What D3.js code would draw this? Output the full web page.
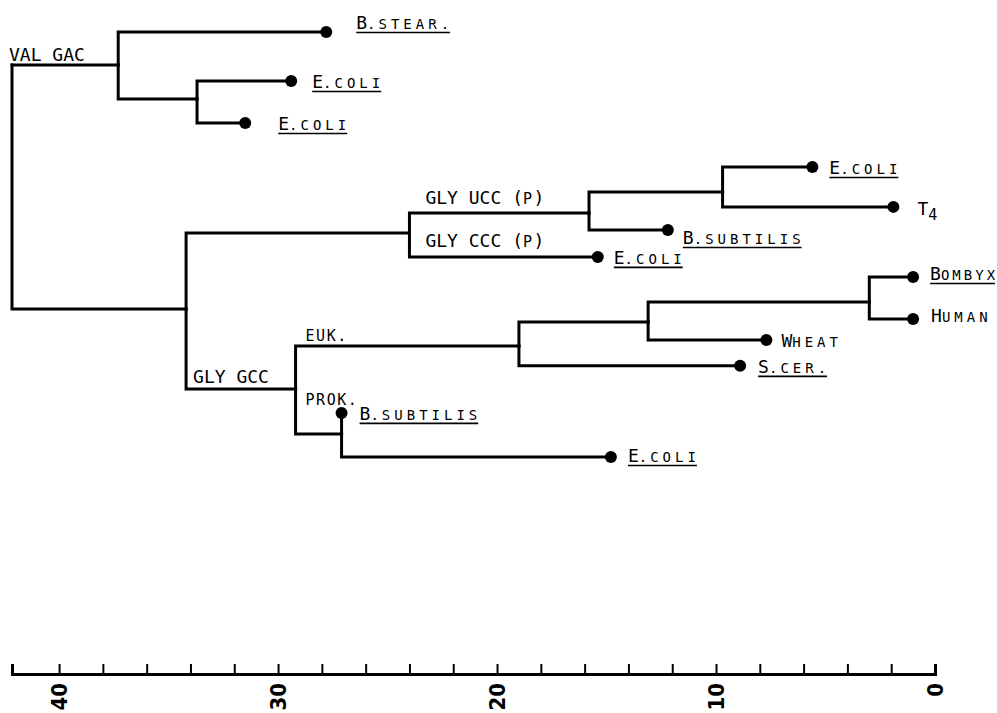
<!DOCTYPE html>
<html>
<head>
<meta charset="utf-8">
<script src="https://cdn.jsdelivr.net/npm/d3@7"></script>
<style>
  body { margin: 0; background: #fff; }
  svg { display: block; }
</style>
</head>
<body>
<div id="chart"></div>
<script>
// tree: node ids, their parents, position on the scale (age) and vertical slot (row)
const nodeIds   = ["root", "n1", "stear", "n2", "coli1", "coli2",
                   "n3", "n4", "n5", "n6", "coli3", "t4", "subt1", "coli4",
                   "n7", "n8", "n9", "n10", "bombyx", "human", "wheat", "scer",
                   "n11", "subt2", "coli5"];
const parentIds = ["", "root", "n1", "n1", "n2", "n2",
                   "root", "n3", "n4", "n5", "n6", "n6", "n5", "n4",
                   "n3", "n7", "n8", "n9", "n10", "n10", "n9", "n8",
                   "n7", "n11", "n11"];
const ages      = [42.15, 37.3, 27.8, 33.7, 29.4, 31.5,
                   34.2, 24.0, 15.8, 9.7, 5.6, 1.9, 12.2, 15.4,
                   29.2, 19.0, 13.1, 3.0, 1.0, 1.0, 7.7, 8.9,
                   27.1, 27.1, 14.8];
const rows      = [1.56, 1.56, 0, 3.16, 2.31, 4.29,
                   13.07, 9.48, 8.54, 7.55, 6.37, 8.25, 9.34, 10.61,
                   16.84, 14.81, 13.68, 12.74, 11.56, 13.54, 14.53, 15.75,
                   18.96, 17.97, 20.05];

// leaf names (underlined = species names)
const leafNames = {
  stear: "B. stear.", coli1: "E. coli", coli2: "E. coli", coli3: "E. coli",
  t4: "T4", subt1: "B. subtilis", coli4: "E. coli", bombyx: "Bombyx",
  human: "Human", wheat: "Wheat", scer: "S. cer.", subt2: "B. subtilis",
  coli5: "E. coli"
};
const underlined = ["stear", "coli1", "coli2", "coli3", "subt1", "coli4",
                    "bombyx", "scer", "subt2", "coli5"];

// labels written on branches (lowercase = small capitals)
const branchLabels = {
  n1: "VAL GAC", n5: "GLY UCC (p)", coli4: "GLY CCC (p)",
  n7: "GLY GCC", n8: "euk.", n11: "prok."
};

const axisTicks = d3.range(0, 41, 2);

const width = 997, height = 713;
const axisY = 674;

const svg = d3.select("#chart").append("svg")
    .attr("width", width)
    .attr("height", height);

const x = d3.scaleLinear().domain([42.15, 0]).range([12, 935]);
const y = d3.scaleLinear().domain([0, 20.05]).range([32, 457]);

const table = nodeIds.map((id, i) => ({
  id: id, parent: parentIds[i] || null, age: ages[i], row: rows[i]
}));
const root = d3.stratify().id(d => d.id).parentId(d => d.parent)(table);

const mono = "'DejaVu Sans Mono', 'Liberation Mono', monospace";

// branches
svg.append("g")
    .attr("fill", "none")
    .attr("stroke", "#000")
    .attr("stroke-width", 3)
    .attr("stroke-linecap", "square")
    .selectAll("path")
    .data(root.links())
    .join("path")
    .attr("d", l => `M${x(l.source.data.age)},${y(l.source.data.row)}` +
                    `V${y(l.target.data.row)}H${x(l.target.data.age)}`);

// leaf dots
svg.append("g")
    .selectAll("circle")
    .data(root.leaves())
    .join("circle")
    .attr("cx", d => x(d.data.age))
    .attr("cy", d => y(d.data.row))
    .attr("r", 6)
    .attr("fill", "#000");

// leaf labels
const leafNudge = {
  stear: {dx: 30, dy: -3}, coli1: {dx: 21}, coli2: {dx: 33}, subt1: {dx: 15, dy: 14},
  t4: {dx: 24, dy: 8}, bombyx: {dx: 17, dy: 3, ls: 3}, human: {dy: 3}, coli5: {dx: 17, dy: 5},
  wheat: {dx: 15}, coli4: {dx: 16}, coli3: {dx: 17}
};

const leafText = svg.append("g")
    .attr("font-family", mono)
    .attr("fill", "#000")
    .selectAll("text")
    .data(root.leaves())
    .join("text")
    .attr("x", d => x(d.data.age) + ((leafNudge[d.id] || {}).dx ?? 18))
    .attr("y", d => y(d.data.row) + ((leafNudge[d.id] || {}).dy ?? 7));

leafText.each(function(d) {
  const name = leafNames[d.id];
  const t = d3.select(this);
  const ls = (leafNudge[d.id] || {}).ls ?? 4;
  t.append("tspan").attr("font-size", 18).text(name[0]);
  if (d.id === "t4") {
    t.append("tspan").attr("font-size", 15).attr("dy", 5).text(name.slice(1));
    return;
  }
  // abbreviated genus: period, small gap, then the rest in small capitals
  const parts = name.slice(1).split(" ");
  parts.forEach((p, i) => {
    t.append("tspan")
        .attr("font-size", 14)
        .attr("letter-spacing", i === 0 && parts.length > 1 ? 1 : ls)
        .attr("dx", i > 0 ? 2 : null)
        .text(p.toUpperCase());
  });
});

// underline species names
leafText.filter(d => underlined.includes(d.id)).each(function() {
  const b = this.getBBox();
  const base = +this.getAttribute("y");
  svg.append("line")
      .attr("x1", b.x)
      .attr("x2", b.x + b.width - 3)
      .attr("y1", base + 3.5)
      .attr("y2", base + 3.5)
      .attr("stroke", "#000")
      .attr("stroke-width", 1.6);
});

// branch labels
const branchNudge = {
  n1: {dx: -3, dy: -4}, n5: {dx: 16, dy: -9}, coli4: {dx: 16, dy: -10},
  n7: {dx: 7, dy: -6}, n8: {dx: 10, dy: -5}
};
const labelled = root.descendants().filter(d => branchLabels[d.id]);

svg.append("g")
    .attr("font-family", mono)
    .attr("fill", "#000")
    .selectAll("text")
    .data(labelled)
    .join("text")
    .attr("x", d => x(d.parent.data.age) + ((branchNudge[d.id] || {}).dx ?? 10))
    .attr("y", d => d.id === "n11"
        ? y(d.parent.data.row) + 16
        : y(d.data.row) + ((branchNudge[d.id] || {}).dy ?? -6))
    .each(function(d) {
      const t = d3.select(this);
      branchLabels[d.id].split(/([a-z][a-z.]*)/).filter(s => s).forEach(s => {
        const small = /[a-z]/.test(s);
        t.append("tspan")
            .attr("font-size", small ? 15 : 18)
            .attr("letter-spacing", small ? 1.5 : 0)
            .text(small ? s.toUpperCase() : s);
      });
    });

// distance axis
const axis = d3.axisBottom(x)
    .tickValues(axisTicks)
    .tickSize(-10)
    .tickSizeOuter(-10)
    .tickFormat(d => d % 10 === 0 ? d : "");

const gAxis = svg.append("g")
    .attr("transform", `translate(0,${axisY})`)
    .call(axis);

gAxis.select(".domain").attr("stroke-width", 3);
gAxis.selectAll(".tick line").attr("stroke-width", 2);
gAxis.selectAll(".tick text")
    .attr("transform", "rotate(-90)")
    .attr("x", -9)
    .attr("y", 0)
    .attr("dy", "0.35em")
    .attr("text-anchor", "end")
    .attr("font-family", "'Liberation Sans Narrow', 'DejaVu Sans Condensed', sans-serif")
    .attr("font-weight", "bold")
    .attr("font-size", 22)
    .attr("fill", "#000");
</script>
</body>
</html>
